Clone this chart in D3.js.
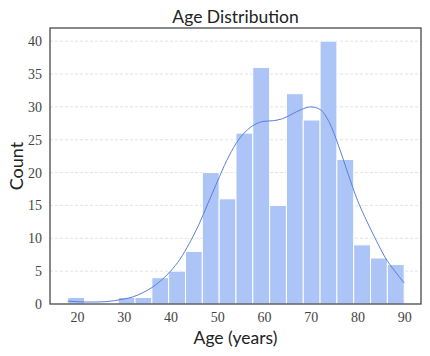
<!DOCTYPE html>
<html><head><meta charset="utf-8">
<script src="https://cdn.jsdelivr.net/npm/d3@7"></script>
<style>
html,body{margin:0;padding:0;background:#fff;}
svg{display:block;}
</style></head>
<body>
<svg id="chart" width="430" height="356"></svg>
<script>
// Histogram bins (age years): 20 bins of width 3.6 from 18 to 90
const binEdges = [18,21.6,25.2,28.8,32.4,36,39.6,43.2,46.8,50.4,54,57.6,61.2,64.8,68.4,72,75.6,79.2,82.8,86.4,90];
const counts = [1,0,0,1,1,4,5,8,20,16,26,36,15,32,28,40,22,9,7,6];
// KDE curve (scaled to counts)
const kdeAges =   [18,20,22,24,26,28,30,32,34,36,38,40,42,44,46,48,50,52,54,56,58,60,62,64,66,68,70,72,74,76,78,80,82,84,86,88,90];
const kdeCounts = [0.45,0.35,0.3,0.3,0.35,0.5,0.75,1.1,1.7,2.5,3.6,5.0,6.8,9.2,12.0,15.3,18.6,21.8,24.4,26.2,27.3,27.8,27.9,28.2,28.9,29.6,30.0,29.6,27.6,24.0,19.8,15.8,12.6,9.7,7.0,5.0,3.2];
const xTicks = [20,30,40,50,60,70,80,90];
const yTicks = [0,5,10,15,20,25,30,35,40];
const titleText = "Age Distribution";
const xLabel = "Age (years)";
const yLabel = "Count";

const svg = d3.select("#chart");
const m = {left:50, right:9, top:28, bottom:52};
const W = 430, H = 356;
const pw = W - m.left - m.right, ph = H - m.top - m.bottom;

const x = d3.scaleLinear().domain([14.2, 93.6]).range([m.left, m.left+pw]);
const y = d3.scaleLinear().domain([0, 42]).range([m.top+ph, m.top]);

const g = svg.append("g");

// grid
g.selectAll("line.grid").data(yTicks.filter(d=>d>0)).join("line")
  .attr("x1", m.left).attr("x2", m.left+pw)
  .attr("y1", d=>y(d)).attr("y2", d=>y(d))
  .attr("stroke", "#dcdcdc").attr("stroke-width", 0.8).attr("stroke-dasharray", "3,2");

// bars
const bins = counts.map((c,i)=>({x0:binEdges[i], x1:binEdges[i+1], c}));
g.selectAll("rect.bar").data(bins).join("rect")
  .attr("x", d=>x(d.x0)).attr("width", d=>x(d.x1)-x(d.x0))
  .attr("y", d=>y(d.c)).attr("height", d=>y(0)-y(d.c))
  .attr("fill", "#adc4f7").attr("stroke", "#fff").attr("stroke-width", 1)
  .attr("opacity", d=>d.c>0?1:0);

// kde line
const line = d3.line().x(d=>x(d[0])).y(d=>y(d[1])).curve(d3.curveMonotoneX);
g.append("path").datum(kdeAges.map((a,i)=>[a,kdeCounts[i]]))
  .attr("d", line).attr("fill","none").attr("stroke","#5b7fd9").attr("stroke-width",1);

// frame
g.append("rect").attr("x", m.left).attr("y", m.top).attr("width", pw).attr("height", ph)
  .attr("fill","none").attr("stroke","#3a3a3a").attr("stroke-width",1.2);

// axes
const xAxis = d3.axisBottom(x).tickValues(xTicks).tickSize(0).tickPadding(8);
const yAxis = d3.axisLeft(y).tickValues(yTicks).tickSize(0).tickPadding(8);
const xa = svg.append("g").attr("transform",`translate(0,${m.top+ph})`).call(xAxis);
const ya = svg.append("g").attr("transform",`translate(${m.left},0)`).call(yAxis);
[xa,ya].forEach(a=>{
  a.select(".domain").remove();
  a.selectAll("text").attr("font-family","'Liberation Serif', serif").attr("font-size",14).attr("fill","#444");
});

svg.append("text").attr("x", m.left+pw/2).attr("y", 23).attr("text-anchor","middle")
  .attr("font-family","Lato, 'DejaVu Sans', sans-serif").attr("font-size",17.5).attr("fill","#222").text(titleText);
svg.append("text").attr("x", m.left+pw/2).attr("y", 344).attr("text-anchor","middle")
  .attr("font-family","Lato, 'DejaVu Sans', sans-serif").attr("font-size",17.5).attr("fill","#222").text(xLabel);
svg.append("text").attr("transform",`translate(23,${m.top+ph/2}) rotate(-90)`).attr("text-anchor","middle")
  .attr("font-family","Lato, 'DejaVu Sans', sans-serif").attr("font-size",18).attr("fill","#222").text(yLabel);
</script>
</body></html>
